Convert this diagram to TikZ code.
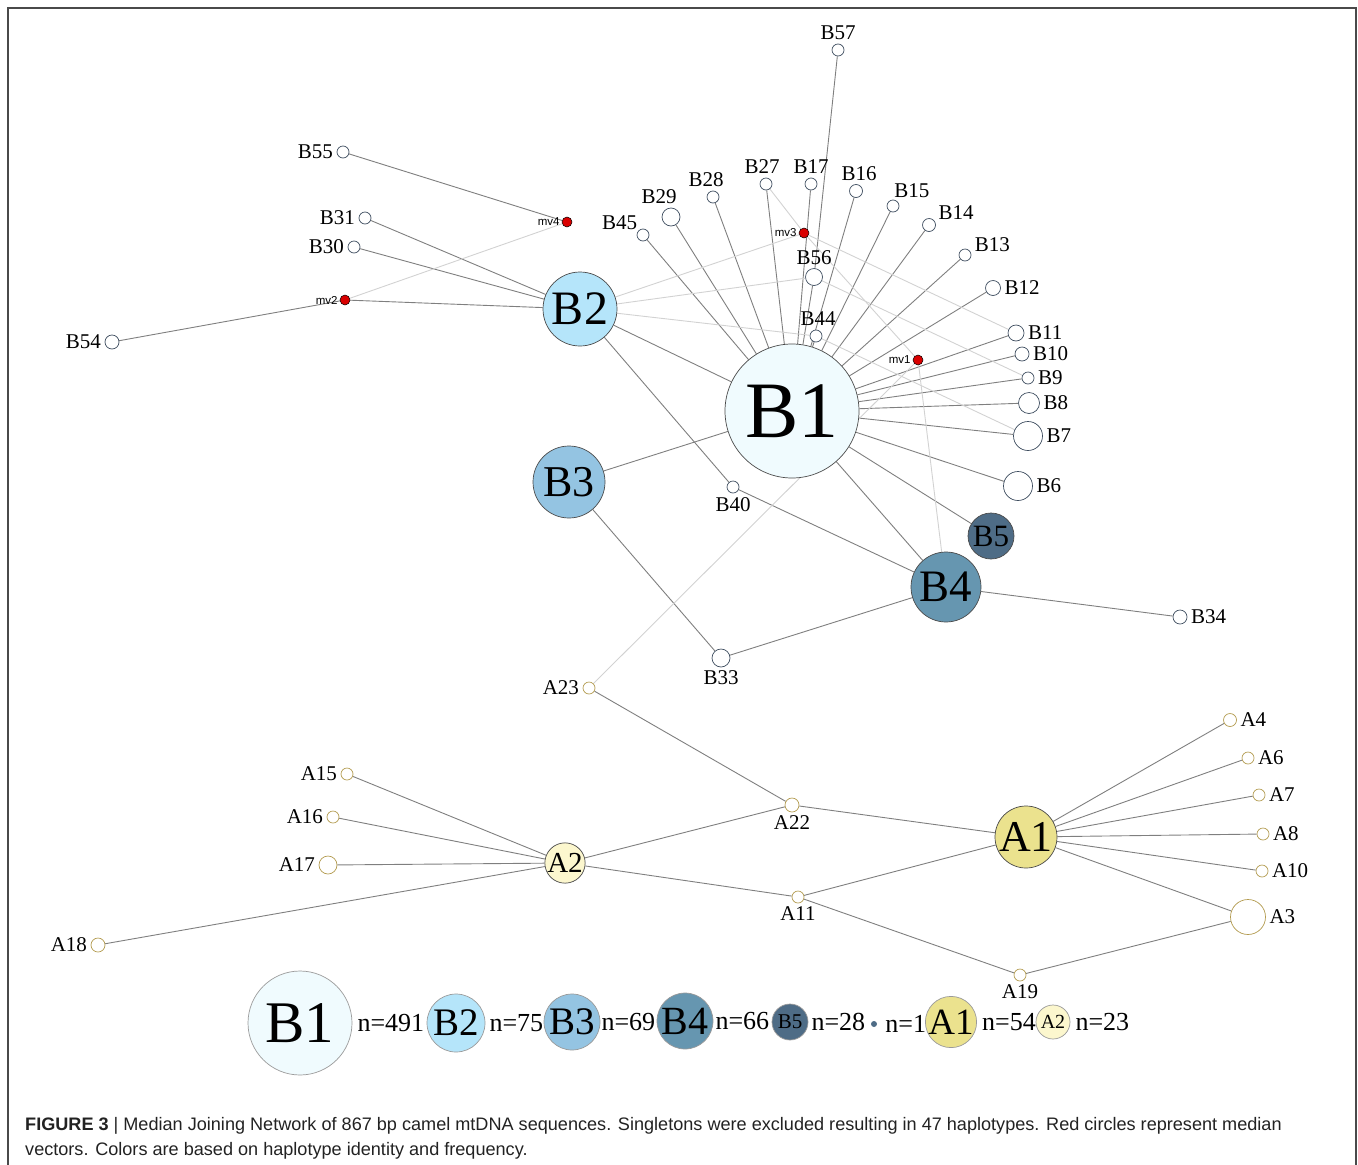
\documentclass[tikz,border=0pt]{standalone}
\usepackage{fontspec}
\setmainfont{Liberation Serif}
\newfontfamily\capfont{Liberation Sans}
\usetikzlibrary{positioning,backgrounds}
\definecolor{b1fill}{HTML}{F0FBFE}
\definecolor{b2fill}{HTML}{B5E5FA}
\definecolor{b3fill}{HTML}{94C4E2}
\definecolor{b4fill}{HTML}{6696B0}
\definecolor{b5fill}{HTML}{4E6C86}
\definecolor{a1fill}{HTML}{EBE28E}
\definecolor{a2fill}{HTML}{FCF7CE}
\definecolor{mvred}{HTML}{D90000}
\definecolor{bnode}{HTML}{3F4E60}
\definecolor{anode}{HTML}{B39B4F}
\definecolor{bigline}{HTML}{4A4A4A}
\definecolor{legline}{HTML}{9A9A9A}
\definecolor{linkgray}{HTML}{7F7F7F}
\definecolor{retgray}{HTML}{D2D2D2}
\definecolor{framegray}{HTML}{4A4A4A}
\definecolor{captext}{HTML}{222222}
\newcommand{\fsz}[1]{\fontsize{#1pt}{#1pt}\selectfont}

\begin{document}
\begin{tikzpicture}[x=1pt,y=-1pt,
    hap/.style={circle,draw=bnode,fill=white,line width=0.7pt,inner sep=0pt},
    ahap/.style={hap,draw=anode},
    big/.style={circle,draw=bigline,line width=0.7pt,inner sep=0pt},
    kbig/.style={big,draw=legline},
    mv/.style={circle,draw=black,fill=mvred,line width=0.5pt,minimum size=10,inner sep=0pt},
    lbl/.style={font=\fsz{21},inner sep=1pt},
    mvlbl/.style={font=\capfont\fsz{11.5},inner sep=1pt},
    link/.style={draw=linkgray,line width=0.9pt},
    relink/.style={draw=retgray,line width=0.9pt},
    cnt/.style={font=\fsz{26},inner sep=0pt},
    capt/.style={font=\capfont\fsz{18.1},text=captext,inner sep=0pt},
    label distance=2.5pt
]
    \useasboundingbox (0,0) rectangle (1358,1165);
    \draw [framegray,line width=1.4pt] (8,1170) -- (8,8) -- (1356,8) -- (1356,1170);

    % haplogroup B
    \node [big,fill=b1fill,minimum size=134,font=\fsz{80}] (B1) at (792,411) {B1};
    \node [big,fill=b2fill,minimum size=74,font=\fsz{48}] (B2) at (580,309) {B2};
    \node [big,fill=b3fill,minimum size=72,font=\fsz{44}] (B3) at (569,482) {B3};
    \node [big,fill=b4fill,minimum size=70,font=\fsz{45}] (B4) at (946,587) {B4};
    \node [big,fill=b5fill,minimum size=46,font=\fsz{31}] (B5) at (991,536) {B5};

    \foreach \n/\x/\y/\r/\p/\s in {
        B57/838/50/6/90/0, B55/343/152/6/180/0, B31/365/218/6/180/0, B30/354/247/6/180/0,
        B54/112/342/7/180/0, B45/643/235/6/150/3, B29/671/217/9/90/-12, B28/713/197/6/90/-7,
        B27/766/184/6/90/-4, B17/811/184/6/90/0, B16/856/191/6.5/90/3, B15/893/206/6/55/-5,
        B14/929/225/6.5/25/0, B13/965/255/6/15/0, B12/993/288/7.5/0/0, B11/1016/333/8/0/0,
        B10/1022/354/7/0/0, B9/1028/378/6/0/0, B8/1029/403/10.5/0/0, B7/1028/436/14.5/0/0,
        B6/1018/486/14.5/0/0, B34/1180/617/7/0/0, B33/721/658/9/270/0, B40/733/487/6/270/0,
        B56/814/277/8.5/90/0, B44/816/336/6/90/2}
        \node [hap,minimum size=2*\r,label={[lbl,xshift=\s]\p:\n}] (\n) at (\x,\y) {};

    \foreach \n/\x/\y in {mv1/918/360, mv2/345/300, mv3/804/233, mv4/567/222}
        \node [mv,label={[mvlbl,label distance=1pt]180:\n}] (\n) at (\x,\y) {};

    % haplogroup A
    \node [big,fill=a1fill,minimum size=62,font=\fsz{44}] (A1) at (1026,837) {A1};
    \node [big,fill=a2fill,minimum size=40,font=\fsz{29}] (A2) at (565,863) {A2};

    \foreach \n/\x/\y/\r/\p in {
        A23/589/688/6/180, A22/792/805/7/270, A15/347/774/6/180, A16/333/817/6/180,
        A17/328/865/9/180, A18/98/945/7/180, A11/798/897/6/270, A19/1020/975/6/270,
        A3/1248/917/17.5/0, A4/1230/720/6.5/0, A6/1248/758/6/0, A7/1259/795/6/0,
        A8/1263/834/6/0, A10/1262/871/6/0}
        \node [ahap,minimum size=2*\r,label={[lbl]\p:\n}] (\n) at (\x,\y) {};

    \begin{scope}[on background layer]
    \foreach \a/\b in {B1/B2, B1/B3, B1/B4, B1/B5, B1/B6, B1/B7, B1/B8, B1/B9,
        B1/B10, B1/B11, B1/B12, B1/B13, B1/B14, B1/B15, B1/B16, B1/B17, B1/B27,
        B1/B28, B1/B29, B1/B45, B1/B44, B1/B56, B56/B57, B2/B30, B2/B31, B2/mv2,
        mv2/B54, mv4/B55, B2/B40, B40/B4, B3/B33, B33/B4, B4/B34,
        A23/A22, A22/A2, A22/A1, A2/A15, A2/A16, A2/A17, A2/A18, A2/A11, A11/A1,
        A11/A19, A19/A3, A1/A3, A1/A4, A1/A6, A1/A7, A1/A8, A1/A10}
        \draw [link] (\a) -- (\b);
    \foreach \a/\b in {B2/mv3, B2/B56, B2/B44, mv3/B11, B56/B9, B44/B7, B27/mv3,
        mv3/mv1, mv1/B4, A23/mv1, mv2/mv4}
        \draw [relink] (\a) -- (\b);
    \end{scope}

    % key
    \node [kbig,fill=b1fill,minimum size=104,font=\fsz{59}] (kB1) at (300,1023) {B1};
    \node [cnt,right=5pt of kB1] (nB1) {n=491};
    \node [kbig,fill=b2fill,minimum size=58,font=\fsz{39}] (kB2) at (456,1023) {B2};
    \node [cnt,right=4pt of kB2] (nB2) {n=75};
    \node [kbig,fill=b3fill,minimum size=56,font=\fsz{39}] (kB3) at (572,1022) {B3};
    \node [cnt,right=1pt of kB3] (nB3) {n=69};
    \node [kbig,fill=b4fill,minimum size=56,font=\fsz{40}] (kB4) at (685,1021) {B4};
    \node [cnt,right=2pt of kB4] (nB4) {n=66};
    \node [kbig,fill=b5fill,minimum size=36,font=\fsz{21}] (kB5) at (790,1022) {B5};
    \node [cnt,right=3pt of kB5] (nB5) {n=28};
    \node [circle,fill=b5fill,minimum size=6,inner sep=0pt] (kS) at (874,1024) {};
    \node [cnt,right=8pt of kS] (nS) {n=1};
    \node [kbig,fill=a1fill,minimum size=50,font=\fsz{37}] (kA1) at (951,1022) {A1};
    \node [cnt,right=5pt of kA1] (nA1) {n=54};
    \node [kbig,fill=a2fill,minimum size=34,font=\fsz{20}] (kA2) at (1053,1022) {A2};
    \node [cnt,right=5pt of kA2] (nA2) {n=23};

    % caption
    \node [capt,anchor=base west] (cap1) at (25,1130) {\textbf{FIGURE 3} | Median Joining Network of 867 bp camel mtDNA sequences. Singletons were excluded resulting in 47 haplotypes. Red circles represent median};
    \node [capt,anchor=base west] (cap2) at (25,1155) {vectors. Colors are based on haplotype identity and frequency.};
\end{tikzpicture}
\end{document}
